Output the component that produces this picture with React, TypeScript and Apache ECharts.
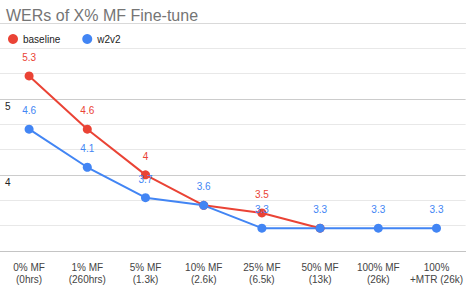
import React, { useEffect, useRef } from "react";
import * as echarts from "echarts";

const categories = [
  "0% MF\n(0hrs)",
  "1% MF\n(260hrs)",
  "5% MF\n(1.3k)",
  "10% MF\n(2.6k)",
  "25% MF\n(6.5k)",
  "50% MF\n(13k)",
  "100% MF\n(26k)",
  "100%\n+MTR (26k)",
];
const baseline = [5.3, 4.6, 4.0, 3.6, 3.5, 3.3, null, null];
const w2v2 = [4.6, 4.1, 3.7, 3.6, 3.3, 3.3, 3.3, 3.3];
const yMajorLabels = [4, 5];

const RED = "#EA4335";
const BLUE = "#4285F4";
const FONT = "Arial, 'Liberation Sans', sans-serif";

export default function App() {
  const ref = useRef<HTMLDivElement>(null);
  useEffect(() => {
    if (!ref.current) return;
    const chart = echarts.init(ref.current, undefined, { renderer: "svg" });
    const minor = "#e8e8e8";
    const major = "#cccccc";
    // where both series share a value, only the top (w2v2) label is visible
    const baselineData = baseline.map((v, i) =>
      v !== null && v === w2v2[i] ? { value: v, label: { show: false } } : v
    );
    chart.setOption({
      animation: false,
      backgroundColor: "#ffffff",
      textStyle: { fontFamily: FONT },
      title: {
        text: "WERs of X% MF Fine-tune",
        left: 1,
        top: 2,
        textStyle: { fontSize: 16, fontWeight: "normal", color: "#757575", fontFamily: FONT },
      },
      graphic: [
        {
          type: "line",
          shape: { x1: 0, y1: 23.5, x2: 466, y2: 23.5 },
          style: { stroke: "#d9d9d9", lineWidth: 1 },
        },
      ],
      legend: {
        left: 3,
        top: 29,
        icon: "circle",
        itemWidth: 10,
        itemHeight: 10,
        itemGap: 22,
        textStyle: { fontSize: 10, color: "#222", fontFamily: FONT },
        data: ["baseline", "w2v2"],
      },
      grid: { left: 0, right: 0, top: 48, bottom: 38 },
      xAxis: {
        type: "category",
        data: categories,
        boundaryGap: true,
        axisTick: { show: false },
        axisLine: { lineStyle: { color: "#c4c4c4" } },
        axisLabel: {
          interval: 0,
          fontSize: 10,
          color: "#444",
          margin: 10,
          lineHeight: 12,
          fontFamily: FONT,
        },
      },
      yAxis: {
        type: "value",
        min: 3,
        max: 17 / 3,
        interval: 1 / 3,
        axisLine: { show: false },
        axisTick: { show: false },
        axisLabel: {
          inside: true,
          margin: 5,
          verticalAlign: "top",
          padding: [3, 0, 0, 0],
          fontSize: 10,
          color: "#222",
          fontFamily: FONT,
          formatter: (v: number) => {
            for (const m of yMajorLabels) if (Math.abs(v - m) < 1e-6) return String(m);
            return "";
          },
        },
        splitLine: {
          show: true,
          lineStyle: {
            color: [minor, minor, minor, major, minor, minor, major, minor, minor],
            width: 1,
          },
        },
      },
      series: [
        {
          name: "baseline",
          type: "line",
          data: baselineData,
          color: RED,
          symbol: "circle",
          symbolSize: 9,
          lineStyle: { width: 2, color: RED },
          itemStyle: { color: RED },
          label: {
            show: true,
            position: "top",
            distance: 9,
            fontSize: 10,
            color: RED,
            fontFamily: FONT,
          },
        },
        {
          name: "w2v2",
          type: "line",
          data: w2v2,
          color: BLUE,
          symbol: "circle",
          symbolSize: 9,
          lineStyle: { width: 2, color: BLUE },
          itemStyle: { color: BLUE },
          label: {
            show: true,
            position: "top",
            distance: 9,
            fontSize: 10,
            color: BLUE,
            fontFamily: FONT,
          },
        },
      ],
    });
    return () => chart.dispose();
  }, []);
  return (
    <div
      ref={ref}
      style={{ position: "fixed", left: 0, top: 0, width: 466, height: 289 }}
    />
  );
}
